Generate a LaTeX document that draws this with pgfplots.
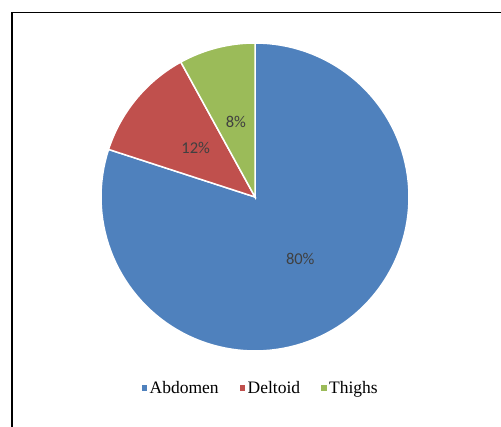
\documentclass[border=0pt]{standalone}
\usepackage{pgfplots}
\pgfplotsset{compat=1.18}
\usepackage{fontspec}
\setmainfont{Liberation Serif}
\newfontfamily\lblfont{Carlito}

\definecolor{pieblue}{HTML}{4F81BD}
\definecolor{piered}{HTML}{C0504D}
\definecolor{piegreen}{HTML}{9BBB59}
\definecolor{lblgray}{HTML}{404040}

% slice values (percent)
\def\vAbd{80}
\def\vDel{12}
\def\vThi{8}

\begin{document}
\begin{tikzpicture}[x=1pt,y=1pt]
\useasboundingbox (0,0) rectangle (501,427);
\draw[line width=1.4pt] (12,0) -- (12,414.5) -- (501,414.5);

% slice angles, clockwise from 12 o'clock
\pgfmathsetmacro\aA{90}
\pgfmathsetmacro\aB{90-3.6*\vAbd}
\pgfmathsetmacro\aC{\aB-3.6*\vDel}
\pgfmathsetmacro\aD{\aC-3.6*\vThi}
\pgfmathsetmacro\mA{(\aA+\aB)/2}
\pgfmathsetmacro\mB{(\aB+\aC)/2}
\pgfmathsetmacro\mC{(\aC+\aD)/2}

\begin{axis}[
    at={(255pt,230pt)}, anchor=center,
    width=308pt, height=308pt, scale only axis,
    xmin=-1, xmax=1, ymin=-1, ymax=1,
    hide axis, clip=false,
    legend columns=3,
    legend style={at={(0.517,-0.120)}, anchor=center, draw=none,
        font=\fontsize{17.5}{20}\selectfont,
        nodes={inner sep=1pt},
        /tikz/every odd column/.append style={column sep=1.5pt},
        /tikz/every even column/.append style={column sep=20pt}},
    legend image code/.code={\fill[#1,draw=none] (0pt,-2.75pt) rectangle (5.5pt,2.75pt);},
]
\addplot[fill=pieblue, draw=white, line width=1.5pt, domain=\aB:\aA, samples=120]
    ({cos(x)},{sin(x)}) -- (0,0) -- cycle;
\addlegendentry{Abdomen}
\addplot[fill=piered, draw=white, line width=1.5pt, domain=\aC:\aB, samples=30]
    ({cos(x)},{sin(x)}) -- (0,0) -- cycle;
\addlegendentry{Deltoid}
\addplot[fill=piegreen, draw=white, line width=1.5pt, domain=\aD:\aC, samples=30]
    ({cos(x)},{sin(x)}) -- (0,0) -- cycle;
\addlegendentry{Thighs}

\node[text=lblgray, font=\lblfont\fontsize{16.5}{19}\selectfont] at (axis cs:{0.5*cos(\mA)},{0.5*sin(\mA)}) {\vAbd\%};
\node[text=lblgray, font=\lblfont\fontsize{16.5}{19}\selectfont] at (axis cs:{0.5*cos(\mB)},{0.5*sin(\mB)}) {\vDel\%};
\node[text=lblgray, font=\lblfont\fontsize{16.5}{19}\selectfont] at (axis cs:{0.5*cos(\mC)},{0.5*sin(\mC)}) {\vThi\%};
\end{axis}
\end{tikzpicture}
\end{document}
